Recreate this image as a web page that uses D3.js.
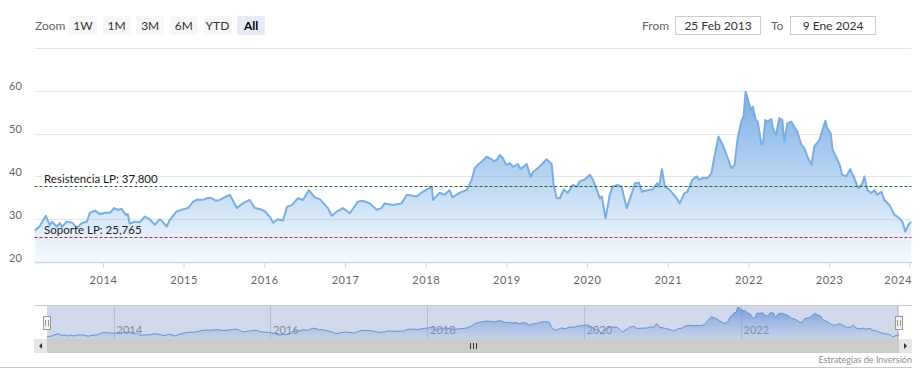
<!DOCTYPE html>
<html>
<head>
<meta charset="utf-8">
<script src="https://cdn.jsdelivr.net/npm/d3@7"></script>
<style>
    body { margin: 0; background: #fff; }
    svg text { font-family: Lato, "Open Sans", sans-serif; }
</style>
</head>
<body>
<div id="chart"></div>
<script>
/* * * * * * * * * * * * * *
*      Price history         *
* * * * * * * * * * * * * */

// fechas de cotizacion
const dates = [
    "2013-02-25","2013-03-20","2013-04-17","2013-05-05","2013-05-15","2013-06-06","2013-06-20","2013-06-29",
    "2013-07-21","2013-08-14","2013-09-05","2013-09-28","2013-10-20","2013-11-03","2013-11-26","2013-12-19",
    "2014-01-11","2014-02-02","2014-02-20","2014-03-09","2014-03-27","2014-04-14","2014-04-23","2014-05-02",
    "2014-05-25","2014-06-17","2014-07-09","2014-07-31","2014-08-24","2014-09-15","2014-09-28","2014-10-16",
    "2014-10-30","2014-11-30","2014-12-28","2015-01-21","2015-02-13","2015-03-03","2015-03-29","2015-04-21",
    "2015-05-09","2015-05-27","2015-06-14","2015-07-11","2015-07-29","2015-08-16","2015-08-30","2015-09-26",
    "2015-10-27","2015-11-19","2015-12-12","2016-01-05","2016-01-27","2016-02-10","2016-03-03","2016-03-26",
    "2016-04-13","2016-05-05","2016-06-01","2016-06-24","2016-07-21","2016-08-17","2016-09-09","2016-10-15",
    "2016-11-02","2016-11-25","2016-12-22","2017-01-23","2017-02-28","2017-03-21","2017-04-22","2017-05-24",
    "2017-06-15","2017-06-29","2017-08-04","2017-09-14","2017-10-07","2017-11-21","2017-12-18","2018-01-29",
    "2018-02-03","2018-03-05","2018-03-27","2018-04-19","2018-05-02","2018-06-04","2018-07-05","2018-07-28",
    "2018-08-11","2018-08-25","2018-09-12","2018-10-04","2018-10-27","2018-11-05","2018-11-19","2018-12-02",
    "2018-12-16","2018-12-31","2019-01-17","2019-01-31","2019-02-22","2019-03-06","2019-04-03","2019-04-21",
    "2019-04-30","2019-06-01","2019-07-02","2019-07-25","2019-08-03","2019-08-17","2019-08-31","2019-09-18",
    "2019-10-06","2019-10-28","2019-11-16","2019-11-29","2019-12-22","2020-01-14","2020-01-28","2020-02-15",
    "2020-02-28","2020-03-08","2020-03-25","2020-04-13","2020-04-26","2020-05-19","2020-06-06","2020-06-20",
    "2020-06-29","2020-07-22","2020-08-05","2020-08-23","2020-09-06","2020-10-03","2020-10-25","2020-11-13",
    "2020-11-22","2020-12-05","2020-12-19","2021-01-10","2021-02-10","2021-02-24","2021-03-17","2021-03-30",
    "2021-04-22","2021-05-10","2021-05-24","2021-06-06","2021-06-29","2021-07-17","2021-07-31","2021-08-18",
    "2021-09-06","2021-09-24","2021-10-16","2021-10-30","2021-11-13","2021-12-01","2021-12-10","2021-12-19",
    "2021-12-28","2022-01-11","2022-01-20","2022-02-03","2022-02-12","2022-03-01","2022-03-09","2022-03-18",
    "2022-03-27","2022-04-14","2022-04-23","2022-05-06","2022-05-20","2022-06-03","2022-06-12","2022-06-26",
    "2022-07-14","2022-07-27","2022-08-10","2022-08-28","2022-09-11","2022-09-25","2022-10-13","2022-10-26",
    "2022-11-18","2022-12-02","2022-12-15","2022-12-24","2023-01-08","2023-01-17","2023-02-04","2023-02-18",
    "2023-03-01","2023-03-19","2023-04-07","2023-04-25","2023-05-13","2023-06-01","2023-06-10","2023-06-23",
    "2023-07-11","2023-07-25","2023-08-07","2023-08-26","2023-09-08","2023-10-01","2023-10-24","2023-11-16",
    "2023-11-29","2023-12-12","2023-12-26","2024-01-09"
];

// precio de cierre
const prices = [
    27.3,28.3,30.8,28.6,29.4,28.3,29.1,28.2,
    29.4,29.2,28.0,29.1,29.4,31.5,32.0,31.2,
    31.5,31.5,32.6,32.2,32.4,31.0,31.2,29.0,
    29.4,29.3,30.6,30.0,28.7,30.0,29.4,28.3,
    29.8,31.8,32.3,32.6,34.1,34.6,34.5,35.0,
    34.9,34.3,34.5,35.3,35.7,34.0,32.6,33.7,
    34.5,32.6,32.4,31.8,30.5,29.2,30.0,29.7,
    32.9,33.3,34.9,34.5,36.8,35.1,34.7,32.6,
    30.8,31.8,32.6,31.4,34.1,34.3,33.7,32.2,
    32.6,33.7,33.3,33.7,35.7,35.3,36.4,37.6,
    34.5,36.2,35.7,36.8,35.1,36.2,36.8,39.2,
    41.9,42.7,43.5,44.6,44.0,43.5,43.9,45.0,
    44.3,42.7,43.1,42.2,42.9,41.7,42.9,39.8,
    40.9,42.3,44.0,42.9,38.0,34.9,34.9,37.0,
    36.1,38.0,37.6,38.8,39.3,40.4,39.2,36.8,
    34.9,35.3,30.2,35.7,37.6,38.0,37.6,34.5,
    32.6,36.1,38.4,38.5,36.4,36.8,37.0,38.4,
    37.6,41.7,37.6,36.8,34.9,33.7,36.1,36.4,
    39.2,40.0,39.2,39.6,39.6,40.7,44.6,49.3,
    47.4,45.0,41.9,42.7,48.9,53.2,54.0,59.8,
    58.3,55.6,56.3,53.2,52.8,47.4,48.1,53.2,
    52.8,53.4,50.9,49.7,53.6,53.2,48.1,52.4,
    52.8,51.6,50.5,47.4,46.6,44.6,42.7,47.0,
    48.5,50.9,53.0,51.3,50.1,46.2,44.3,42.7,
    40.4,40.0,41.7,39.6,37.2,38.4,40.0,36.8,
    36.1,36.8,35.7,36.4,34.5,33.3,31.0,30.2,
    29.4,27.1,28.7,29.4
];

// y axis ticks
const yTicks = [20, 30, 40, 50, 60, 70];

// niveles de soporte / resistencia
const levelNames = ["Resistencia LP: 37,800", "Soporte LP: 25,765"];
const levelValues = [37.8, 25.765];

// range selector
const zoomButtons = ["1W", "1M", "3M", "6M", "YTD", "All"];
const rangeLabels = ["From", "To"];
const rangeValues = ["25 Feb 2013", "9 Ene 2024"];
const creditText = "Estrategias de Inversión";

/* ---------- setup ---------- */
const W = 920, H = 385;
const parseDate = d3.timeParse("%Y-%m-%d");
const series = dates.map((d, i) => ({date: parseDate(d), value: prices[i]}));

const plot = {left: 34.5, right: 911.5, top: 48, bottom: 262};
const nav = {left: 47, right: 899, top: 305, bottom: 339};

const svg = d3.select("#chart").append("svg")
    .attr("width", W)
    .attr("height", H);

const defs = svg.append("defs");

// main gradient
let grad = defs.append("linearGradient")
    .attr("id", "areaFill")
    .attr("x1", 0).attr("y1", 0).attr("x2", 0).attr("y2", 1);
grad.append("stop").attr("offset", "0%").attr("stop-color", "#7aaee3").attr("stop-opacity", 1);
grad.append("stop").attr("offset", "100%").attr("stop-color", "#7cb5ec").attr("stop-opacity", 0.06);

// navigator gradient
let ngrad = defs.append("linearGradient")
    .attr("id", "navFill")
    .attr("x1", 0).attr("y1", 0).attr("x2", 0).attr("y2", 1);
ngrad.append("stop").attr("offset", "0%").attr("stop-color", "#6e9ee0").attr("stop-opacity", 0.9);
ngrad.append("stop").attr("offset", "100%").attr("stop-color", "#8fb6ea").attr("stop-opacity", 0.15);

defs.append("clipPath").attr("id", "plotClip")
    .append("rect")
    .attr("x", plot.left).attr("y", plot.top)
    .attr("width", plot.right - plot.left).attr("height", plot.bottom - plot.top);

// scales
const x = d3.scaleTime()
    .domain(d3.extent(series, d => d.date))
    .range([plot.left, plot.right]);

const y = d3.scaleLinear()
    .domain([20, 70])
    .range([plot.bottom, plot.top]);

/* ---------- range selector ---------- */
const header = svg.append("g").attr("class", "rangeselector");

header.append("text")
    .attr("x", 35).attr("y", 30)
    .attr("fill", "#666").attr("font-size", 12)
    .text("Zoom");

const btnX = d3.scaleBand()
    .domain(zoomButtons)
    .range([69, 265])
    .paddingInner(0.17);

header.selectAll(".zbtn")
    .data(zoomButtons)
    .enter()
    .append("rect")
    .attr("class", "zbtn")
    .attr("x", d => btnX(d))
    .attr("y", 16)
    .attr("width", btnX.bandwidth())
    .attr("height", 19)
    .attr("rx", 2)
    .attr("fill", d => d === "All" ? "#e6ebf5" : "#f7f7f7");

header.selectAll(".zlbl")
    .data(zoomButtons)
    .enter()
    .append("text")
    .attr("class", "zlbl")
    .attr("x", d => btnX(d) + btnX.bandwidth() / 2)
    .attr("y", 30)
    .attr("text-anchor", "middle")
    .attr("font-size", 12)
    .attr("font-weight", d => d === "All" ? "bold" : "normal")
    .attr("fill", d => d === "All" ? "#000" : "#333")
    .text(d => d);

// from / to boxes
const boxLeft = [675, 790];
const labelLeft = [642, 771];
rangeLabels.forEach((lbl, i) => {
    header.append("text")
        .attr("x", labelLeft[i]).attr("y", 30)
        .attr("fill", "#666").attr("font-size", 12)
        .text(lbl);
    header.append("rect")
        .attr("x", boxLeft[i] + 0.5).attr("y", 16.5)
        .attr("width", 85).attr("height", 18)
        .attr("fill", "#fff").attr("stroke", "#cccccc");
    header.append("text")
        .attr("x", boxLeft[i] + 43).attr("y", 30)
        .attr("text-anchor", "middle")
        .attr("fill", "#333").attr("font-size", 12)
        .text(rangeValues[i]);
});

/* ---------- grid + y labels ---------- */
const grid = svg.append("g").attr("class", "grid");
grid.selectAll("line")
    .data(yTicks)
    .enter()
    .append("line")
    .attr("x1", plot.left).attr("x2", plot.right)
    .attr("y1", d => Math.round(y(d)) + 0.5)
    .attr("y2", d => Math.round(y(d)) + 0.5)
    .attr("stroke", "#e6e6e6");

svg.append("g").selectAll("text")
    .data(yTicks.filter(d => d < 70))
    .enter()
    .append("text")
    .attr("x", 9)
    .attr("y", d => y(d) - 0.5)
    .attr("font-size", 11)
    .attr("fill", "#666")
    .text(d => d);

/* ---------- series ---------- */
const area = d3.area()
    .x(d => x(d.date))
    .y0(plot.bottom)
    .y1(d => y(d.value));

const line = d3.line()
    .x(d => x(d.date))
    .y(d => y(d.value));

const seriesG = svg.append("g").attr("clip-path", "url(#plotClip)");

seriesG.append("path")
    .datum(series)
    .attr("d", area)
    .attr("fill", "url(#areaFill)");

seriesG.append("path")
    .datum(series)
    .attr("d", line)
    .attr("fill", "none")
    .attr("stroke", "#7badE2")
    .attr("stroke-width", 2)
    .attr("stroke-linejoin", "round");

/* ---------- x axis ---------- */
const xAxis = svg.append("g")
    .attr("transform", `translate(0,${plot.bottom})`)
    .call(d3.axisBottom(x)
        .ticks(d3.timeYear.every(1))
        .tickFormat(d3.timeFormat("%Y"))
        .tickSize(6)
        .tickPadding(8)
        .tickSizeOuter(0));

xAxis.select(".domain").attr("stroke", "#ccd6eb").attr("stroke-width", 1.5);
xAxis.selectAll(".tick line").attr("stroke", "#ccd6eb");
xAxis.selectAll(".tick text")
    .attr("fill", "#666")
    .attr("font-size", 11)
    .attr("font-family", "Lato, 'Open Sans', sans-serif")
    .attr("letter-spacing", "0.6px");

// keep the last label inside the chart, like the original
xAxis.selectAll(".tick text")
    .filter(d => x(d) > plot.right - 15)
    .attr("text-anchor", "end")
    .attr("dx", 2);

/* ---------- support / resistance ---------- */
const levelColors = ["#1f6b1f", "#b0303f"];
levelValues.forEach((v, i) => {
    let ly = Math.round(y(v)) + 0.5;
    svg.append("line")
        .attr("x1", plot.left).attr("x2", plot.right)
        .attr("y1", ly).attr("y2", ly)
        .attr("stroke", levelColors[i])
        .attr("stroke-width", 1)
        .attr("stroke-dasharray", "3,2");
    svg.append("text")
        .attr("x", 44)
        .attr("y", ly - 4)
        .attr("font-size", 11.5)
        .attr("fill", "#222")
        .text(levelNames[i]);
});

/* ---------- navigator ---------- */
const nx = d3.scaleTime()
    .domain(x.domain())
    .range([nav.left, nav.right]);

const ny = d3.scaleLinear()
    .domain(d3.extent(prices))
    .range([nav.bottom - 2, nav.top + 2]);

const navG = svg.append("g").attr("class", "navigator");

// navigator grid
const navTicks = nx.ticks(d3.timeYear.every(2));
navG.selectAll(".ngrid")
    .data(navTicks)
    .enter()
    .append("line")
    .attr("x1", d => Math.round(nx(d)) + 0.5)
    .attr("x2", d => Math.round(nx(d)) + 0.5)
    .attr("y1", nav.top).attr("y2", nav.bottom)
    .attr("stroke", "#d8d8d8");

navG.selectAll(".nlbl")
    .data(navTicks.filter(d => nx(d) < nav.right - 30))
    .enter()
    .append("text")
    .attr("x", d => nx(d) + 3)
    .attr("y", 334)
    .attr("font-size", 11)
    .attr("fill", "#8a8a8a")
    .text(d3.timeFormat("%Y"));

navG.append("path")
    .datum(series)
    .attr("d", d3.area().x(d => nx(d.date)).y0(nav.bottom).y1(d => ny(d.value)))
    .attr("fill", "url(#navFill)");

navG.append("path")
    .datum(series)
    .attr("d", d3.line().x(d => nx(d.date)).y(d => ny(d.value)))
    .attr("fill", "none")
    .attr("stroke", "#6f95d3")
    .attr("stroke-width", 1);

// selected range mask
navG.append("rect")
    .attr("x", nav.left).attr("y", nav.top)
    .attr("width", nav.right - nav.left).attr("height", nav.bottom - nav.top)
    .attr("fill", "rgba(102,133,194,0.3)");

navG.append("line")
    .attr("x1", 34).attr("x2", 912)
    .attr("y1", nav.top + 0.5).attr("y2", nav.top + 0.5)
    .attr("stroke", "#cccccc");

// handles
[nav.left, nav.right].forEach(hx => {
    navG.append("rect")
        .attr("x", hx - 3.5).attr("y", 316.5)
        .attr("width", 7).attr("height", 13)
        .attr("fill", "#f2f2f2").attr("stroke", "#999");
    navG.append("path")
        .attr("d", `M${hx - 1.5},320V326M${hx + 1.5},320V326`)
        .attr("stroke", "#999");
});

// scrollbar
const sb = svg.append("g").attr("class", "scrollbar");
sb.append("rect")
    .attr("x", 34).attr("y", 339)
    .attr("width", 878).attr("height", 14)
    .attr("fill", "#f2f2f2");
sb.append("rect")
    .attr("x", nav.left).attr("y", 339)
    .attr("width", nav.right - nav.left).attr("height", 14)
    .attr("fill", "#cccccc");
[[34, -1], [899, 1]].forEach(([bx, dir]) => {
    sb.append("rect")
        .attr("x", bx).attr("y", 339)
        .attr("width", 13).attr("height", 14)
        .attr("fill", "#e6e6e6");
    let cx = bx + 6.5;
    sb.append("path")
        .attr("d", dir < 0
            ? `M${cx + 1.5},343L${cx - 1.5},346L${cx + 1.5},349Z`
            : `M${cx - 1.5},343L${cx + 1.5},346L${cx - 1.5},349Z`)
        .attr("fill", "#333");
});
let midX = Math.round((nav.left + nav.right) / 2);
sb.append("path")
    .attr("d", `M${midX - 2.5},343V349M${midX + 0.5},343V349M${midX + 3.5},343V349`)
    .attr("stroke", "#333");

/* ---------- credits + frame ---------- */
svg.append("text")
    .attr("x", 912).attr("y", 363)
    .attr("text-anchor", "end")
    .attr("font-size", 9)
    .attr("fill", "#909090")
    .text(creditText);

svg.append("line")
    .attr("x1", 0).attr("x2", 912)
    .attr("y1", 367.5).attr("y2", 367.5)
    .attr("stroke", "#c9c9d2");
</script>
</body>
</html>
